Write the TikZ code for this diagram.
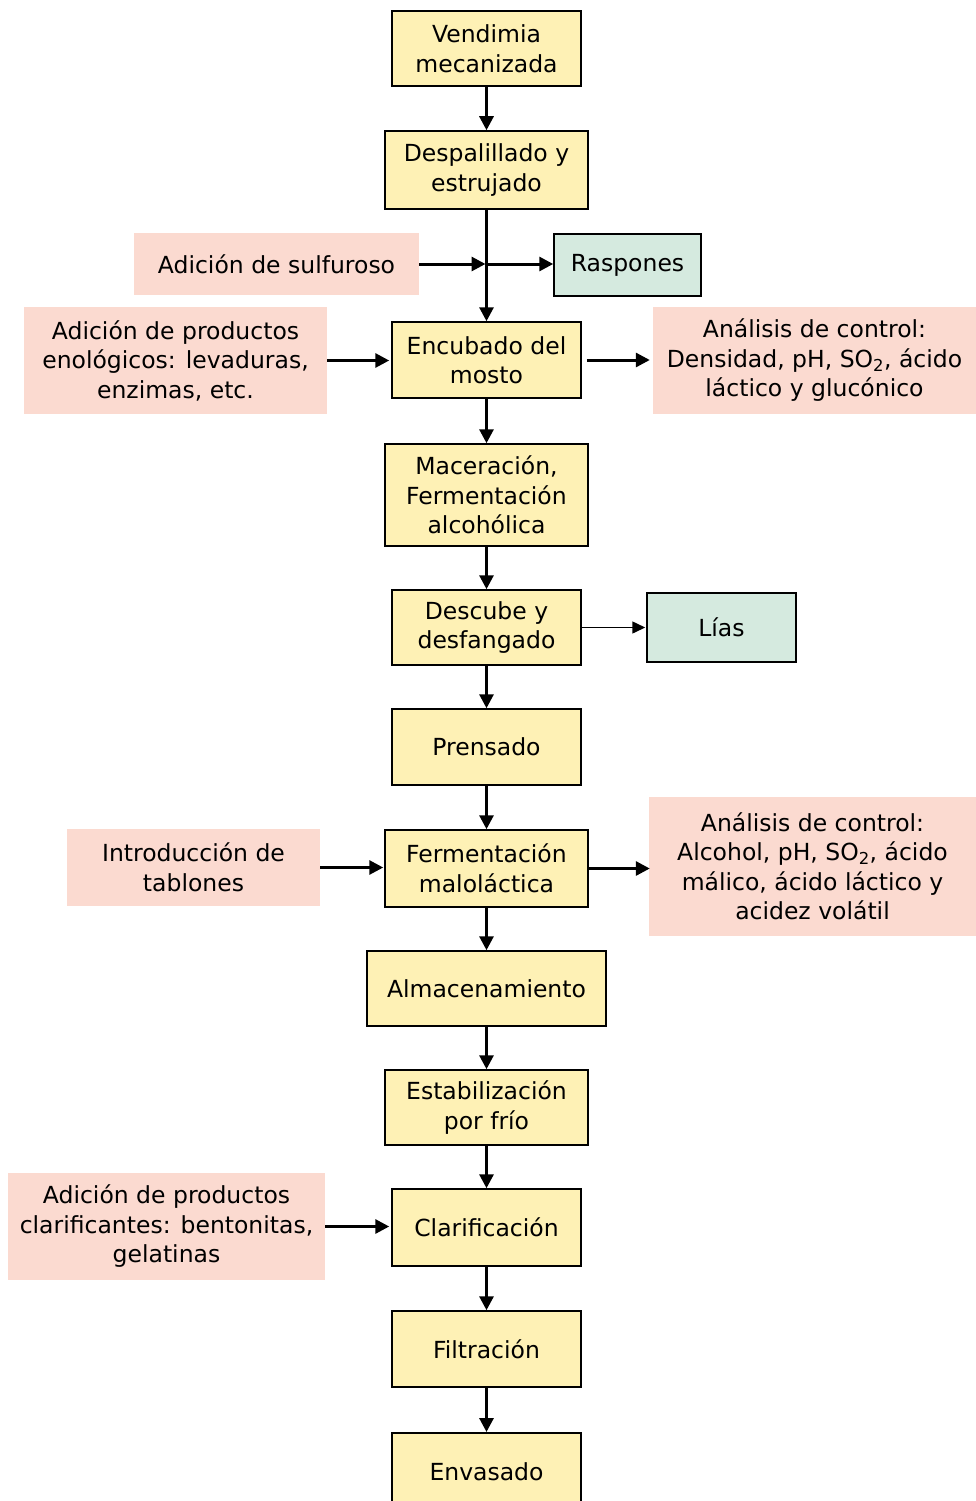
\documentclass[tikz,border=0pt]{standalone}
\usepackage{fontspec}
\setmainfont{DejaVu Sans}
\usetikzlibrary{arrows.meta}
\definecolor{procfill}{HTML}{FEF1B5}
\definecolor{inpfill}{HTML}{FBDAD0}
\definecolor{outfill}{HTML}{D5EADF}
\tikzset{
  txt/.style={inner sep=0pt, align=center, font=\fontsize{23.5}{29.5}\selectfont},
  proc/.style={txt, draw=black, line width=1.5pt, fill=procfill},
  inp/.style={txt, fill=inpfill},
  outb/.style={txt, draw=black, line width=1.5pt, fill=outfill},
  arr/.style={-{Triangle[length=14pt,width=14pt]}, line width=3pt},
  thinarr/.style={-{Triangle[length=13pt,width=12pt]}, line width=1.5pt}
}
\begin{document}
\begin{tikzpicture}[x=1pt,y=-1pt]
\useasboundingbox (0,0) rectangle (976,1501);
% process column
\node[proc, minimum width=189pt, minimum height=75pt] (vend) at (486.5,48.5) {Vendimia\\mecanizada};
\node[proc, minimum width=203pt, minimum height=78pt] (desp) at (486.5,170) {Despalillado y\\estrujado};
\node[proc, minimum width=189pt, minimum height=76pt] (enc) at (486.5,360) {Encubado del\\mosto};
\node[proc, minimum width=203pt, minimum height=102pt] (mac) at (486.5,495) {Maceración,\\Fermentación\\alcohólica};
\node[proc, minimum width=189pt, minimum height=75pt] (desc) at (486.5,627.5) {Descube y\\desfangado};
\node[proc, minimum width=189pt, minimum height=76pt] (pren) at (486.5,747) {Prensado};
\node[proc, minimum width=203pt, minimum height=77pt] (ferm) at (486.5,868.5) {Fermentación\\maloláctica};
\node[proc, minimum width=239pt, minimum height=75pt] (alm) at (486.5,988.5) {Almacenamiento};
\node[proc, minimum width=203pt, minimum height=75pt] (est) at (486.5,1107.5) {Estabilización\\por frío};
\node[proc, minimum width=189pt, minimum height=77pt] (clarif) at (486.5,1227.5) {Clarificación};
\node[proc, minimum width=189pt, minimum height=76pt] (filt) at (486.5,1349) {Filtración};
\node[proc, minimum width=189pt, minimum height=78pt, anchor=north] (env) at (486.5,1432) {\raisebox{-4pt}{Envasado}};
% inputs
\node[inp, minimum width=285pt, minimum height=62pt] (sulf) at (276.5,264) {Adición de sulfuroso};
\node[inp, minimum width=303pt, minimum height=107pt] (enol) at (175.5,360.5) {Adición de productos\\enológicos: levaduras,\\enzimas, etc.};
\node[inp, minimum width=253pt, minimum height=77pt] (tabl) at (193.5,867.5) {Introducción de\\tablones};
\node[inp, minimum width=317pt, minimum height=107pt] (clar) at (166.5,1226.5) {Adición de productos\\clarificantes: bentonitas,\\gelatinas};
% controls
\node[inp, minimum width=323pt, minimum height=107pt] (an1) at (814.5,360.5) {Análisis de control:\\Densidad, pH, SO\textsubscript{2}, ácido\\láctico y glucónico};
\node[inp, minimum width=327pt, minimum height=139pt] (an2) at (812.5,866.5) {Análisis de control:\\Alcohol, pH, SO\textsubscript{2}, ácido\\málico, ácido láctico y\\acidez volátil};
% outputs
\node[outb, minimum width=147pt, minimum height=62pt] (rasp) at (627.5,265) {Raspones};
\node[outb, minimum width=149pt, minimum height=69pt] (lias) at (721.5,627.5) {Lías};
% connectors
\coordinate (j) at (485.5,264);
\draw[arr] (vend) -- (desp);
\draw[arr] (desp) -- (enc);
\draw[arr] (sulf.east) -- (j);
\draw[arr] (j) -- (j -| rasp.west);
\draw[arr] (enol.east) -- ([xshift=-2pt]enol.east -| enc.west);
\draw[arr] ([xshift=5pt]enc.east) -- ([xshift=-3pt]enc.east -| an1.west);
\draw[arr] (enc) -- (mac);
\draw[arr] (mac) -- (desc);
\draw[thinarr] (desc.east) -- ([xshift=-1pt]lias.west);
\draw[arr] (desc) -- (pren);
\draw[arr] (pren) -- (ferm);
\draw[arr] (tabl.east) -- ([xshift=-1pt]tabl.east -| ferm.west);
\draw[arr] (ferm.east) -- ([xshift=1pt]ferm.east -| an2.west);
\draw[arr] (ferm) -- (alm);
\draw[arr] (alm) -- (est);
\draw[arr] (est) -- (clarif);
\draw[arr] (clar.east) -- ([xshift=-2pt]clar.east -| clarif.west);
\draw[arr] (clarif) -- (filt);
\draw[arr] (filt) -- (env);
\end{tikzpicture}
\end{document}
